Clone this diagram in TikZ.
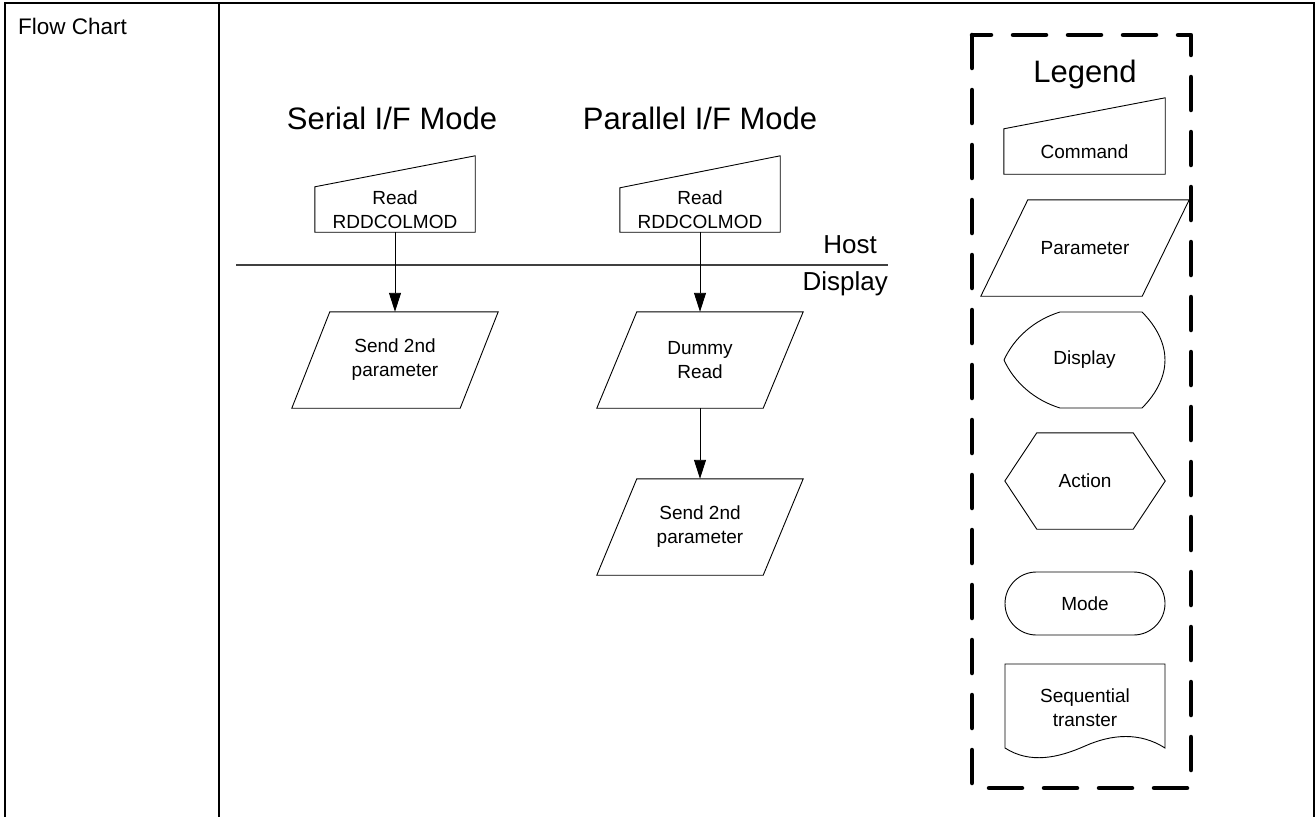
\documentclass[tikz,border=0pt]{standalone}
\usepackage{fontspec}
\setmainfont{Liberation Sans}
\usetikzlibrary{arrows.meta,calc}
\begin{document}
\begin{tikzpicture}[x=1pt,y=-1pt,
  frame/.style={line width=2.6pt,line cap=rect},
  txt/.style={inner sep=0pt,align=center,font=\fontsize{19}{24}\selectfont},
  shp/.style={draw,line width=0.9pt,line join=miter},
  title/.style={inner sep=0pt,anchor=base,font=\fontsize{31}{36}\selectfont},
  side/.style={inner sep=0pt,anchor=base east,font=\fontsize{26}{30}\selectfont},
  flow/.style={line width=0.9pt,-{Triangle[length=19pt,width=12pt]}},
  legendbox/.style={line width=4.5pt,line cap=round,line join=round,dash pattern=on 33pt off 22pt}
]
\useasboundingbox (0,0) rectangle (1316,816);
\fill[white] (0,0) rectangle (1316,816);

% table frame
\draw[frame] (5,820) -- (5,3) -- (1314,3) -- (1314,820);
\draw[frame] (219,3) -- (219,820);
\node[inner sep=0pt,anchor=base west,font=\fontsize{22.5}{27}\selectfont] (fc) at (18,35) {Flow Chart};

% titles
\node[title] (tser) at (392,129) {Serial I/F Mode};
\node[title] (tpar) at (700,129) {Parallel I/F Mode};

% host / display boundary
\coordinate (hl) at (236,265);
\coordinate (hr) at (888,265);
\draw[line width=1.4pt,black!75] (hl) -- (hr);
\node[side] (host) at (877,253) {Host};
\node[side] (disp) at (888,290) {Display};

% serial column
\node[txt,minimum width=160pt,minimum height=45pt] (c1) at (395,209.5) {Read\\RDDCOLMOD};
\draw[shp] (c1.north west) -- ($(c1.north east)+(0,-31)$) -- (c1.south east) -- (c1.south west) -- cycle;
\node[txt,minimum width=206pt,minimum height=96pt] (p1) at (395,360) {Send 2nd\\parameter};
\draw[shp] ($(p1.north west)+(38,0)$) -- (p1.north east) -- ($(p1.south east)+(-38,0)$) -- (p1.south west) -- cycle;
\draw[flow] (c1.south) -- (p1.north);

% parallel column
\node[txt,minimum width=160pt,minimum height=44pt] (c2) at (700,210) {Read\\RDDCOLMOD};
\draw[shp] (c2.north west) -- ($(c2.north east)+(0,-32)$) -- (c2.south east) -- (c2.south west) -- cycle;
\node[txt,minimum width=206pt,minimum height=96pt] (p2) at (700,360) {Dummy\\Read};
\draw[shp] ($(p2.north west)+(40,0)$) -- (p2.north east) -- ($(p2.south east)+(-40,0)$) -- (p2.south west) -- cycle;
\node[txt,minimum width=206pt,minimum height=96pt] (p3) at (700,527) {Send 2nd\\parameter};
\draw[shp] ($(p3.north west)+(40,0)$) -- (p3.north east) -- ($(p3.south east)+(-40,0)$) -- (p3.south west) -- cycle;
\draw[flow] (c2.south) -- (p2.north);
\draw[flow] (p2.south) -- (p3.north);

% legend
\draw[legendbox] (972,35) rectangle (1191,788);
\node[title] (leg) at (1085,82) {Legend};

\node[txt,minimum width=161pt,minimum height=45pt] (lcmd) at (1084.5,151.5) {Command};
\draw[shp] (lcmd.north west) -- ($(lcmd.north east)+(0,-31)$) -- (lcmd.south east) -- (lcmd.south west) -- cycle;

\node[txt,minimum width=208pt,minimum height=96pt] (lpar) at (1085,248) {Parameter};
\draw[shp] ($(lpar.north west)+(47,0)$) -- (lpar.north east) -- ($(lpar.south east)+(-47,0)$) -- (lpar.south west) -- cycle;

\node[txt,minimum width=161pt,minimum height=96pt] (ldis) at (1084.5,360) {Display};
\draw[shp] (1060,312) -- (1142,312) .. controls (1158,328) and (1165,345) .. (1165,360)
  .. controls (1165,375) and (1158,392) .. (1142,408) -- (1060,408)
  .. controls (1034,400) and (1014,382) .. (1004,360)
  .. controls (1014,338) and (1034,320) .. (1060,312) -- cycle;

\node[txt,minimum width=160pt,minimum height=96pt] (lact) at (1085,481) {Action};
\draw[shp] (lact.west) -- ($(lact.north west)+(32,0)$) -- ($(lact.north east)+(-32,0)$) -- (lact.east)
  -- ($(lact.south east)+(-32,0)$) -- ($(lact.south west)+(32,0)$) -- cycle;

\node[txt,shp,rounded corners=31.5pt,minimum width=160pt,minimum height=63pt] (lmode) at (1085,603.5) {Mode};

\node[txt,minimum width=160pt,minimum height=84pt] (lseq) at (1085,708) {Sequential\\transter};
\draw[shp] (1005,748) -- (1005,664) -- (1165,664) -- (1165,748)
  .. controls (1140,732) and (1112,734) .. (1085,746)
  .. controls (1058,758) and (1030,764) .. (1005,748) -- cycle;
\end{tikzpicture}
\end{document}
